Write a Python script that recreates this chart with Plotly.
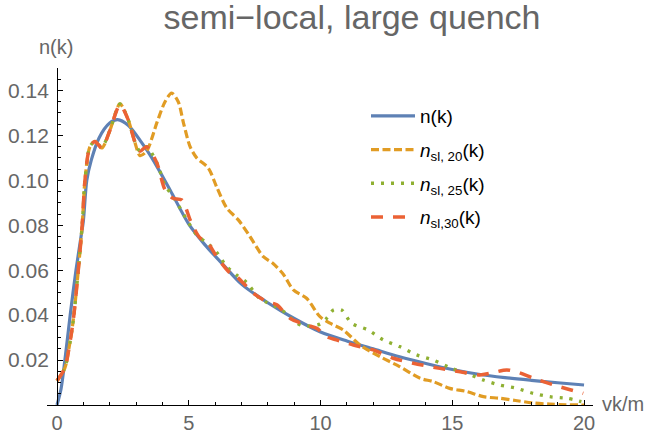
import plotly.graph_objects as go

# n(k)
k_exact = [0, 0.15, 0.3, 0.5, 0.72, 0.9, 1.0, 1.13, 1.3, 1.6, 2.0, 2.3, 2.7, 3.2, 3.6, 4.3, 5.0, 5.6, 6.3,
           7.0, 8.0, 9.0, 10.0, 11.0, 12.0, 13.0, 14.0, 15.0, 16.0, 17.0, 18.0, 19.0, 20.0]
n_exact = [0, 0.007, 0.02, 0.04, 0.06, 0.074, 0.082, 0.1, 0.109, 0.119, 0.1255, 0.127, 0.1245, 0.117, 0.11,
           0.0955, 0.0805, 0.0715, 0.0625, 0.0538, 0.0455, 0.0385, 0.0325, 0.0285, 0.025, 0.0215, 0.0185,
           0.0158, 0.0137, 0.0122, 0.011, 0.0099, 0.0089]

# n_sl,20
k_20 = [0, 0.3, 0.45, 0.62, 0.8, 0.96, 1.06, 1.25, 1.44, 1.7, 2.0, 2.39, 2.7, 2.96, 3.15, 3.4, 3.8, 4.1,
        4.35, 4.6, 4.8, 5.05, 5.3, 5.74, 6.06, 6.44, 6.88, 7.32, 7.83, 8.2, 8.6, 8.97, 9.47, 9.98, 10.36,
        10.86, 11.5, 12.26, 13.0, 13.78, 14.28, 14.9, 15.55, 16.18, 16.8, 17.4, 18.07, 18.7, 19.3, 20.0]
n_20 = [0.0108, 0.0165, 0.025, 0.038, 0.059, 0.081, 0.1, 0.115, 0.1173, 0.1144, 0.122, 0.134, 0.127,
        0.1167, 0.111, 0.113, 0.126, 0.135, 0.1388, 0.135, 0.1255, 0.115, 0.11, 0.1055, 0.097, 0.0877,
        0.0824, 0.075, 0.066, 0.063, 0.058, 0.0512, 0.0475, 0.0393, 0.0364, 0.0334, 0.0267, 0.0215,
        0.0171, 0.0119, 0.0104, 0.0074, 0.006, 0.0037, 0.003, 0.002, 0.0009, 0.0004, 0.0001, 0.0]

# n_sl,25
k_25 = [0, 0.3, 0.45, 0.62, 0.8, 0.96, 1.06, 1.25, 1.44, 1.7, 2.0, 2.39, 2.7, 2.96, 3.15, 3.4, 3.78, 4.1,
        4.5, 5.0, 5.3, 5.7, 6.06, 6.44, 6.8, 7.2, 7.64, 7.9, 8.53, 9.03, 9.35, 9.98, 10.23, 10.49, 10.8,
        11.18, 11.8, 12.38, 13.0, 13.65, 14.28, 14.98, 15.55, 16.18, 16.8, 17.45, 18.07, 18.7, 19.34, 19.9]
n_25 = [0.0108, 0.0165, 0.025, 0.038, 0.059, 0.081, 0.1, 0.115, 0.1173, 0.1148, 0.122, 0.134, 0.127,
        0.117, 0.113, 0.115, 0.108, 0.098, 0.091, 0.081, 0.0757, 0.072, 0.068, 0.0616, 0.058, 0.0545,
        0.048, 0.046, 0.0423, 0.0371, 0.0352, 0.036, 0.0386, 0.0423, 0.0423, 0.0364, 0.0334, 0.029,
        0.026, 0.0223, 0.02, 0.0163, 0.0141, 0.0111, 0.0089, 0.0074, 0.0052, 0.0037, 0.003, 0.0015]

# n_sl,30
k_30 = [0, 0.3, 0.45, 0.62, 0.8, 0.96, 1.06, 1.25, 1.44, 1.7, 2.0, 2.39, 2.7, 2.96, 3.15, 3.4, 3.78, 4.1,
        4.4, 4.73, 5.1, 5.43, 5.68, 6.06, 6.57, 6.82, 7.45, 7.96, 8.34, 8.84, 9.47, 9.86, 10.23, 10.6,
        11.25, 12.0, 12.76, 13.52, 14.53, 15.3, 16.05, 16.43, 17.07, 17.5, 18.08, 18.96, 19.97]
n_30 = [0.0108, 0.0165, 0.025, 0.038, 0.059, 0.081, 0.1, 0.115, 0.1173, 0.1144, 0.122, 0.1335, 0.127,
        0.117, 0.113, 0.115, 0.108, 0.0958, 0.092, 0.0913, 0.081, 0.0743, 0.0728, 0.066, 0.0587, 0.0571,
        0.0498, 0.046, 0.0446, 0.0386, 0.0356, 0.0341, 0.0304, 0.029, 0.0267, 0.0245, 0.0208, 0.0186,
        0.0163, 0.0148, 0.0134, 0.0141, 0.0156, 0.0145, 0.0119, 0.0085, 0.0052]

x_ticks = [0, 5, 10, 15, 20]
y_ticks = [0.02, 0.04, 0.06, 0.08, 0.10, 0.12, 0.14]
y_tick_text = ["0.02", "0.04", "0.06", "0.08", "0.10", "0.12", "0.14"]

names = ["n(k)",
         "<i>n</i><sub>sl, 20</sub>(k)",
         "<i>n</i><sub>sl, 25</sub>(k)",
         "<i>n</i><sub>sl,30</sub>(k)"]
colors = ["#5E81B5", "#E19C24", "#8FB032", "#EB6235"]
dashes = ["solid", "8px,3.5px", "3px,7px", "12px,10px"]
widths = [3.2, 3.2, 3.3, 3.5]
xs = [k_exact, k_20, k_25, k_30]
ys = [n_exact, n_20, n_25, n_30]

FONT = "Liberation Sans, Arial, sans-serif"
GRAY = "#666666"

fig = go.Figure()
for i in range(4):
    fig.add_trace(go.Scatter(
        x=xs[i], y=ys[i], mode="lines", name=names[i], legendgroup=str(i),
        line=dict(color=colors[i], width=widths[i], dash=dashes[i], shape="spline", smoothing=0.8),
    ))

W, H = 652, 431
L, R, T, B = 47, 59, 68, 26
PW, PH = W - L - R, H - T - B
xr = [-0.38, 20.34]
ypos = (0 - xr[0]) / (xr[1] - xr[0])

fig.update_layout(
    width=W, height=H,
    margin=dict(l=L, r=R, t=T, b=B, pad=0, autoexpand=False),
    paper_bgcolor="white", plot_bgcolor="white",
    font=dict(family=FONT, color=GRAY),
    title=dict(text="semi−local, large quench", x=352 / W, xanchor="center", xref="container",
               y=1 - 17 / H, yanchor="middle", yref="container",
               font=dict(size=34, color=GRAY, family=FONT)),
    xaxis=dict(range=xr, showgrid=False, zeroline=False, showline=True, linecolor="black", linewidth=1,
               automargin=False,
               tickvals=x_ticks, ticks="inside", ticklen=5, tickcolor="black", tickwidth=1,
               tickfont=dict(size=20, color=GRAY), ticklabelstandoff=0,
               minor=dict(dtick=1, tick0=0, ticks="inside", ticklen=3, tickcolor="black")),
    yaxis=dict(range=[0, 0.15], showgrid=False, zeroline=False, showline=True, linecolor="black", linewidth=1,
               anchor="free", position=ypos, automargin=False,
               tickvals=y_ticks, ticktext=y_tick_text, ticks="inside", ticklen=5, tickcolor="black",
               tickfont=dict(size=21, color=GRAY), ticklabelstandoff=4,
               minor=dict(dtick=0.005, tick0=0, ticks="inside", ticklen=3, tickcolor="black")),
    showlegend=True,
    legend=dict(x=(366 - L) / PW, y=(405 - 97) / PH, xanchor="left", yanchor="top",
                bgcolor="rgba(0,0,0,0)", font=dict(size=19, color="black", family=FONT),
                tracegroupgap=6, itemwidth=44),
)

fig.add_annotation(text="n(k)", xref="paper", yref="paper",
                   x=(56 - L) / PW, y=(405 - 47) / PH,
                   xanchor="center", yanchor="middle", showarrow=False,
                   font=dict(size=20, color=GRAY, family=FONT))
fig.add_annotation(text="vk/m", xref="paper", yref="paper",
                   x=(600 - L) / PW, y=(405 - 404) / PH,
                   xanchor="left", yanchor="middle", showarrow=False,
                   font=dict(size=20, color=GRAY, family=FONT))

fig.write_html("out.html", post_script="document.body.style.margin='0';",
               config={"displayModeBar": False})
